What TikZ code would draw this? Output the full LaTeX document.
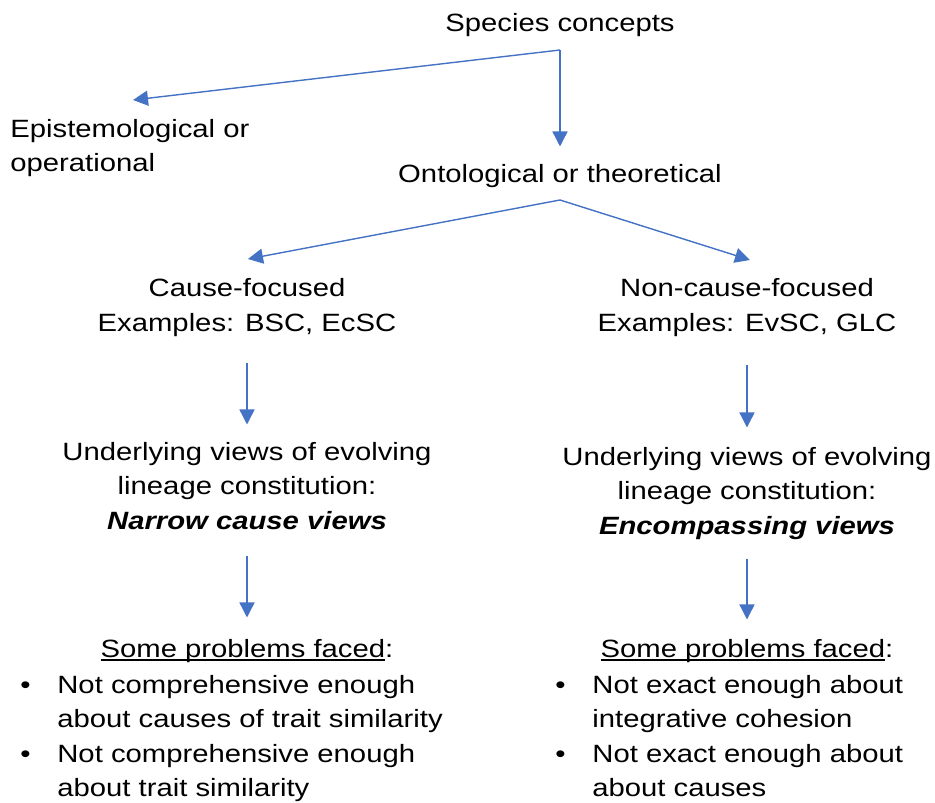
\documentclass[tikz,border=0pt]{standalone}
\usepackage{fontspec}
\setmainfont{Liberation Sans}[FakeStretch=1.17]
\usetikzlibrary{arrows.meta}
\definecolor{arrblue}{HTML}{4472C4}
\newsavebox\ulbox
\newcommand\ulbar[1]{\sbox\ulbox{#1}\rlap{\rule[-2pt]{\wd\ulbox}{1pt}}\usebox\ulbox}
\newcommand\bul{\makebox[18.5pt][l]{\textbullet}}
\newcommand\ind{\hspace*{18.5pt}}
\begin{document}
\begin{tikzpicture}[x=0.5pt,y=-0.5pt,line cap=butt,>={Triangle[length=7.5pt,width=7.5pt]}]
\tikzset{txt/.style={inner sep=0pt,font=\fontsize{12.5}{17.25}\selectfont},
arr/.style={->,color=arrblue,line width=0.7pt}
}
\useasboundingbox (0,0) rectangle (935,802);
% top (multi-line nodes sit on their last baseline)
\node[txt,anchor=base] (species) at (560,32) {Species concepts};
\node[txt,anchor=base west,align=left] (epist) at (10,172) {Epistemological or\\operational};
\node[txt,anchor=base] (ontol) at (560,183) {Ontological or theoretical};
\coordinate (spfork) at (560,50);
\coordinate (episttip) at (133,100);
\draw[arr] (spfork) -- (episttip);
\draw[arr,shorten >=9pt] (spfork) -- (ontol.north);
% middle
\node[txt,anchor=base,align=center] (causef) at (247,331) {Cause-focused\\Examples: BSC, EcSC};
\node[txt,anchor=base,align=center] (noncausef) at (747,331) {Non-cause-focused\\Examples: EvSC, GLC};
\coordinate (ontfork) at (560,200);
\coordinate (causetip) at (248,259);
\coordinate (noncausetip) at (750,260);
\draw[arr] (ontfork) -- (causetip);
\draw[arr] (ontfork) -- (noncausetip);
\node[txt,anchor=base,align=center] (viewsL) at (247,529) {Underlying views of evolving\\lineage constitution:\\\textbf{\textit{Narrow cause views}}};
\node[txt,anchor=base,align=center] (viewsR) at (747,534) {Underlying views of evolving\\lineage constitution:\\\textbf{\textit{Encompassing views}}};
\draw[arr,shorten <=13pt,shorten >=8.5pt] (causef.south) -- (viewsL.north);
\draw[arr,shorten <=14pt,shorten >=9.5pt] (noncausef.south) -- (viewsR.north);
% bottom
\node[txt,anchor=base] (probL) at (247,657) {\ulbar{Some problems faced}:};
\node[txt,anchor=base west,align=left] (listL) at (20,796.5) {\bul Not comprehensive enough\\\ind about causes of trait similarity\\\bul Not comprehensive enough\\\ind about trait similarity};
\node[txt,anchor=base] (probR) at (747,657) {\ulbar{Some problems faced}:};
\node[txt,anchor=base west,align=left] (listR) at (555,796.5) {\bul Not exact enough about\\\ind integrative cohesion\\\bul Not exact enough about\\\ind about causes};
\draw[arr,shorten <=13pt,shorten >=10.5pt] (viewsL.south) -- (probL.north);
\draw[arr,shorten <=9.5pt,shorten >=9.5pt] (viewsR.south) -- (probR.north);
\end{tikzpicture}
\end{document}
